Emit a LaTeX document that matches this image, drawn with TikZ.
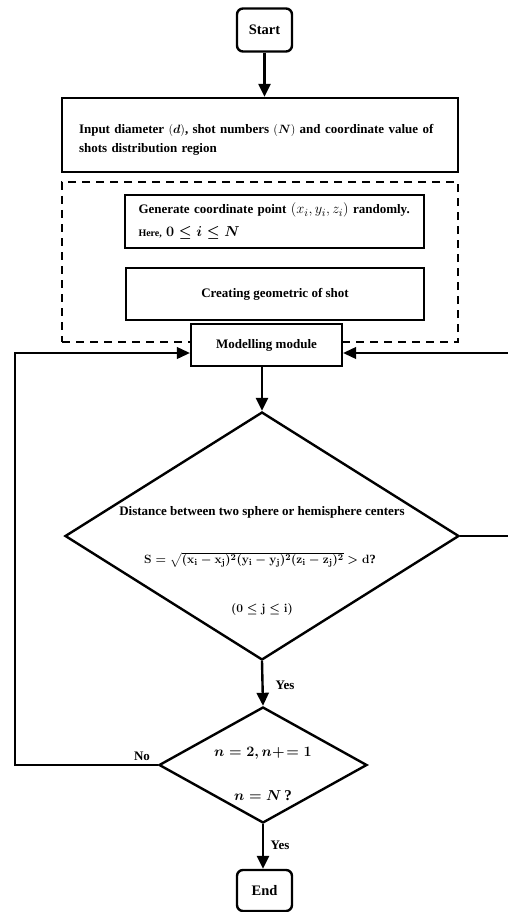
\documentclass[tikz,border=0pt]{standalone}
\usepackage{amsmath}
\usepackage{bm}
\usepackage{fontspec}
\setmainfont{Liberation Serif}
\usetikzlibrary{shapes.geometric,arrows.meta}
\newcommand{\distformula}{{\boldmath$\mathbf{S}=\sqrt{(\mathbf{x}_\mathbf{i}-\mathbf{x}_\mathbf{j})^2(\mathbf{y}_\mathbf{i}-\mathbf{y}_\mathbf{j})^2(\mathbf{z}_\mathbf{i}-\mathbf{z}_\mathbf{j})^2}>\mathbf{d}$?}}
\newcommand{\jrange}{{\boldmath$(\mathbf{0}\le\mathbf{j}\le\mathbf{i})$}}
\newcommand{\ncount}{{\boldmath$n=2,n\mathord{+}\!=1$}}
\newcommand{\nequal}{{\boldmath$n=N\,$?}}
\newcommand{\gentext}{\mbox{Generate coordinate point {\fontsize{15}{17}\selectfont$(x_i,y_i,z_i)$} randomly.}\\[8pt]{\fontsize{10}{12}\selectfont Here,} {\fontsize{15}{17}\selectfont\boldmath$0\le i\le N$}}
\newcommand{\inputtext}{\rule{0pt}{19pt}Input diameter $(\bm{d})$, shot numbers $(\bm{N})$ and coordinate value of\\ shots distribution region}
\begin{document}
\begin{tikzpicture}[x=1pt,y=-1pt,
  font=\fontsize{13}{15}\selectfont\bfseries,
  box/.style={draw,line width=2.4pt,fill=white,inner sep=0pt},
  term/.style={box,rounded corners=6pt,font=\fontsize{14.5}{16}\selectfont\bfseries},
  dia/.style={draw,diamond,line width=2.4pt,inner sep=0pt},
  dashbox/.style={draw,line width=2.4pt,dash pattern=on 8pt off 6pt,inner sep=0pt},
  arr/.style={-{Triangle[length=13pt,width=12pt]},line width=2.4pt},
  thin/.style={line width=1.1pt},
  thinarr/.style={thin,-{Triangle[length=13pt,width=12pt]}},
  lbl/.style={inner sep=0pt},
  formlbl/.style={inner sep=0pt,font=\fontsize{12.5}{14}\selectfont\bfseries},
  mathlbl/.style={inner sep=0pt,font=\fontsize{15}{17}\selectfont\bfseries}]
\useasboundingbox (0,0) rectangle (507,912);
% nodes
\node[term,minimum width=55pt,minimum height=43pt] (start) at (264.5,30) {Start};
\node[box,minimum width=396pt,minimum height=74pt,text width=362pt,align=left,inner xsep=17pt,
  font=\fontsize{13}{19}\selectfont\bfseries] (input) at (260,135) {\inputtext};
\node[dashbox,minimum width=396pt,minimum height=160pt] (group) at (260,262) {};
\node[box,minimum width=299pt,minimum height=53pt,text width=272pt,align=left,inner xsep=13.5pt] (gen) at (274.5,221.5) {\gentext};
\node[box,minimum width=298pt,minimum height=52pt] (create) at (275,294) {Creating geometric of shot};
\node[box,minimum width=151pt,minimum height=42pt] (model) at (266.5,345) {Modelling module};
\node[dia,minimum width=394pt,minimum height=248pt] (d1) at (262,536) {};
\node[lbl] (d1a) at (262,512) {Distance between two sphere or hemisphere centers};
\node[formlbl] (d1b) at (260,560) {\distformula};
\node[lbl] (d1c) at (262,609) {\jrange};
\node[dia,minimum width=208pt,minimum height=116pt] (d2) at (263,765) {};
\node[mathlbl] (d2a) at (263,753) {\ncount};
\node[mathlbl] (d2b) at (263,796) {\nequal};
\node[term,minimum width=55pt,minimum height=41pt] (end) at (264.5,890.5) {End};
\node[lbl] (yes1) at (285,685) {Yes};
\node[lbl] (yes2) at (280,845) {Yes};
\node[lbl] (no) at (142,756) {No};
\coordinate (lb) at (15,765);
\coordinate (lt) at (15,353);
\coordinate (rb) at (512,536);
\coordinate (rt) at (512,353);
% connectors
\draw[arr] (start.south) -- (start.south |- input.north);
\draw[arr] (d1.north |- model.south) -- (d1.north);
\draw[arr] (d1.south) -- (d2.north);
\draw[arr] (d2.south) -- (d2.south |- end.north);
\draw[thinarr] (d2.west) -- (lb) -- (lt) -- (lt -| model.west);
\draw[thinarr] (d1.east) -- (rb) -- (rt) -- (rt -| model.east);
\end{tikzpicture}
\end{document}
